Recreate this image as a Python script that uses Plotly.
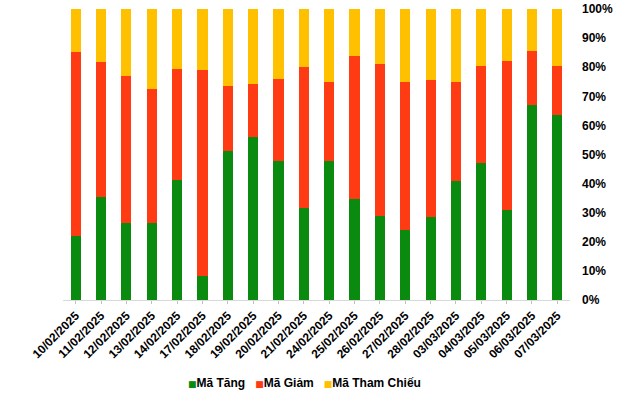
import plotly.graph_objects as go

dates = ["10/02/2025", "11/02/2025", "12/02/2025", "13/02/2025", "14/02/2025",
         "17/02/2025", "18/02/2025", "19/02/2025", "20/02/2025", "21/02/2025",
         "24/02/2025", "25/02/2025", "26/02/2025", "27/02/2025", "28/02/2025",
         "03/03/2025", "04/03/2025", "05/03/2025", "06/03/2025", "07/03/2025"]
tang = [22.1, 35.4, 26.5, 26.5, 41.2, 8.2, 51.2, 56.0, 47.8, 31.6,
        47.8, 34.7, 28.9, 24.2, 28.5, 40.9, 47.1, 30.9, 67.0, 63.6]
giam = [63.1, 46.4, 50.5, 46.0, 38.2, 70.8, 22.3, 18.2, 28.1, 48.5,
        27.1, 49.1, 52.2, 50.7, 47.1, 34.0, 33.3, 51.2, 18.6, 16.8]
tham_chieu = [round(100 - a - b, 1) for a, b in zip(tang, giam)]

series = [("Mã Tăng", tang, "#0B8A10"),
          ("Mã Giảm", giam, "#FF3B14"),
          ("Mã Tham Chiếu", tham_chieu, "#FFC000")]

tick_vals = [0, 10, 20, 30, 40, 50, 60, 70, 80, 90, 100]
tick_text = [f"{v}%" for v in tick_vals]

fig = go.Figure()
for name, vals, color in series:
    fig.add_trace(go.Bar(x=dates, y=vals, name=name, marker_color=color,
                         marker_line_width=0))

# compact legend row (square + label, as in the reference)
legend_text = "&nbsp;&nbsp;&nbsp;".join(
    f"<span style='color:{color};font-size:9px;font-family:DejaVu Sans'>■</span>{name}"
    for name, _, color in series
)

fig.update_layout(
    barmode="stack",
    bargap=0.6,
    width=640, height=393,
    margin=dict(l=63, r=70, t=9, b=93, autoexpand=False),
    plot_bgcolor="white", paper_bgcolor="white",
    font=dict(family="Liberation Sans, Arial, sans-serif", size=12, color="#000000"),
    showlegend=False,
    annotations=[dict(text=legend_text, xref="paper", yref="paper",
                      x=0.477, y=-0.285, xanchor="center", yanchor="middle",
                      showarrow=False,
                      font=dict(size=12, family="Liberation Sans, Arial, sans-serif",
                                weight="bold", color="#000000"))],
    xaxis=dict(tickangle=-45, showline=True, linecolor="#D9D9D9", linewidth=1,
               ticks="outside", ticklen=3, tickcolor="#BFBFBF", automargin=False,
               tickfont=dict(size=12, weight="bold"), showgrid=False),
    yaxis=dict(range=[0, 100], side="right", tickvals=tick_vals, ticktext=tick_text,
               showgrid=False, zeroline=False, showline=False, automargin=False,
               ticklabelstandoff=11,
               tickfont=dict(size=12, weight="bold")),
)
fig.write_html("out.html", config={"displayModeBar": False},
               post_script="document.body.style.margin='0';document.body.style.overflow='hidden';")
